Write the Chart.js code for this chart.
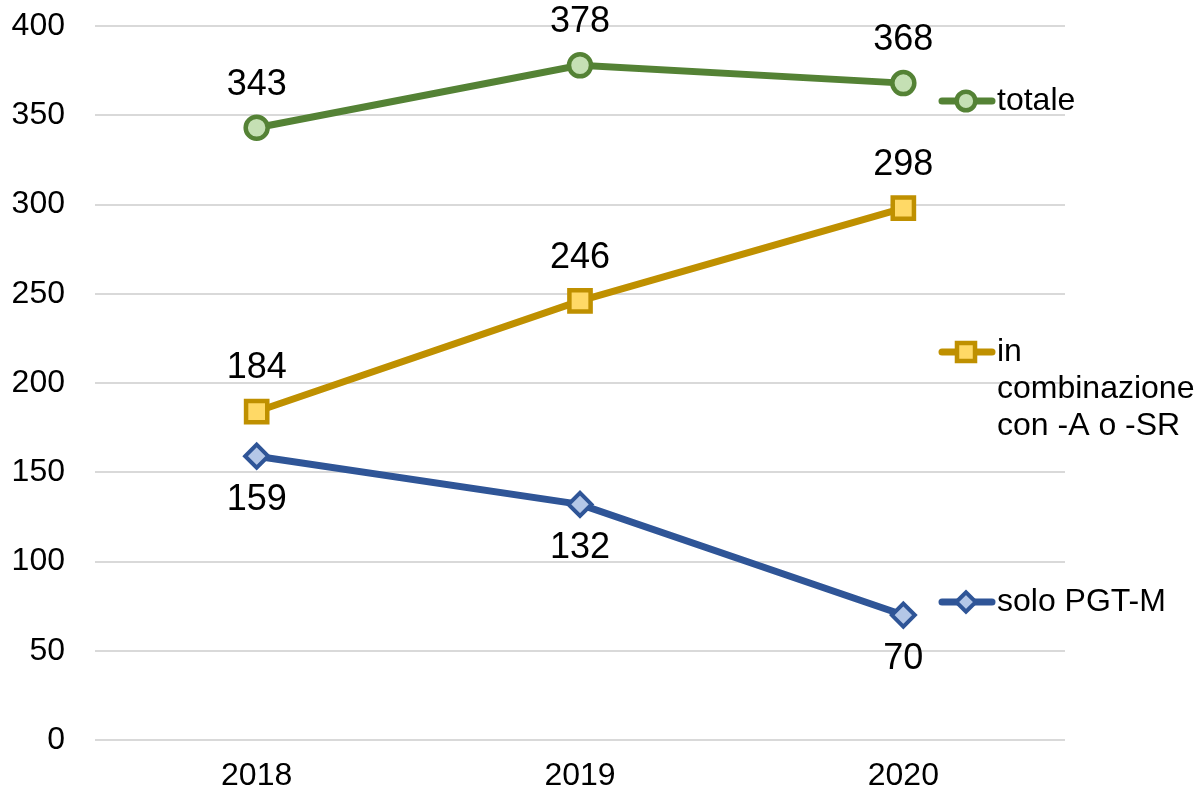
<!DOCTYPE html>
<html>
<head>
<meta charset="utf-8">
<script src="https://cdn.jsdelivr.net/npm/chart.js@4"></script>
<style>
  body { margin: 0; background: #fff; }
</style>
</head>
<body>
<canvas id="chart" width="1198" height="792"></canvas>
<script>
const years = ['2018', '2019', '2020'];
const totale = [343, 378, 368];
const combinazione = [184, 246, 298];
const soloPgtM = [159, 132, 70];
const yTicks = [0, 50, 100, 150, 200, 250, 300, 350, 400];

const FONT = '"Liberation Sans", Arial, sans-serif';

// value labels above / below the points
const valueLabels = {
  id: 'valueLabels',
  afterDatasetsDraw(chart) {
    const ctx = chart.ctx;
    ctx.save();
    ctx.font = '36px ' + FONT;
    ctx.fillStyle = '#000';
    ctx.textAlign = 'center';
    ctx.textBaseline = 'middle';
    chart.data.datasets.forEach((ds, i) => {
      const meta = chart.getDatasetMeta(i);
      meta.data.forEach((pt, j) => {
        const dy = ds.labelPos === 'below' ? 44 : -43;
        ctx.fillText(ds.data[j], pt.x, pt.y + dy);
      });
    });
    ctx.restore();
  }
};

// legend on the right, next to each line
const sideLegend = {
  id: 'sideLegend',
  afterDraw(chart) {
    const ctx = chart.ctx;
    ctx.save();
    chart.data.datasets.forEach((ds) => {
      const y = ds.legendY;
      ctx.strokeStyle = ds.borderColor;
      ctx.lineWidth = 7;
      ctx.lineCap = 'round';
      ctx.beginPath();
      ctx.moveTo(942, y);
      ctx.lineTo(992, y);
      ctx.stroke();
      ctx.fillStyle = ds.pointBackgroundColor;
      ctx.strokeStyle = ds.borderColor;
      ctx.lineWidth = ds.pointBorderWidth;
      Chart.helpers.drawPoint(ctx, {
        pointStyle: ds.pointStyle,
        radius: ds.pointRadius * 0.85,
        borderWidth: ds.pointBorderWidth
      }, 966, y);
      ctx.font = '32px ' + FONT;
      ctx.fillStyle = '#000';
      ctx.textAlign = 'left';
      ctx.textBaseline = 'middle';
      ds.legendLines.forEach((line, k) => {
        ctx.fillText(line, 997, y + k * 37);
      });
    });
    ctx.restore();
  }
};

new Chart(document.getElementById('chart'), {
  type: 'line',
  data: {
    labels: years,
    datasets: [
      {
        label: 'totale',
        legendLines: ['totale'],
        legendY: 101,
        labelPos: 'above',
        data: totale,
        borderColor: '#548235',
        backgroundColor: '#c5e0b4',
        pointBackgroundColor: '#c5e0b4',
        pointStyle: 'circle',
        pointRadius: 11,
        pointBorderWidth: 4.5,
        borderWidth: 7
      },
      {
        label: 'in combinazione con -A o -SR',
        legendLines: ['in', 'combinazione', 'con -A o -SR'],
        legendY: 352,
        labelPos: 'above',
        data: combinazione,
        borderColor: '#bf9000',
        backgroundColor: '#ffd966',
        pointBackgroundColor: '#ffd966',
        pointStyle: 'rect',
        pointRadius: 15,
        pointBorderWidth: 4.5,
        borderWidth: 7
      },
      {
        label: 'solo PGT-M',
        legendLines: ['solo PGT-M'],
        legendY: 602,
        labelPos: 'below',
        data: soloPgtM,
        borderColor: '#2f5597',
        backgroundColor: '#b4c7e7',
        pointBackgroundColor: '#b4c7e7',
        pointStyle: 'rectRot',
        pointRadius: 11.5,
        pointBorderWidth: 4,
        borderWidth: 7
      }
    ]
  },
  options: {
    responsive: false,
    animation: false,
    layout: { padding: { top: 26, right: 133, left: 0, bottom: 0 } },
    plugins: {
      legend: { display: false },
      tooltip: { enabled: false }
    },
    scales: {
      x: {
        offset: true,
        grid: { display: false, drawTicks: false },
        border: { display: false },
        ticks: { color: '#000', font: { family: FONT, size: 32 }, padding: 17 },
        afterFit(scale) { scale.height = 52; scale.paddingLeft = 0; scale.paddingRight = 0; }
      },
      y: {
        min: 0,
        max: 400,
        afterBuildTicks(scale) { scale.ticks = yTicks.map(v => ({ value: v })); },
        grid: { color: '#d9d9d9', lineWidth: 2, drawTicks: false },
        border: { display: false },
        ticks: { color: '#000', font: { family: FONT, size: 32 }, padding: 30 },
        afterFit(scale) { scale.width = 95; scale.paddingTop = 0; scale.paddingBottom = 0; }
      }
    }
  },
  plugins: [valueLabels, sideLegend]
});
</script>
</body>
</html>
